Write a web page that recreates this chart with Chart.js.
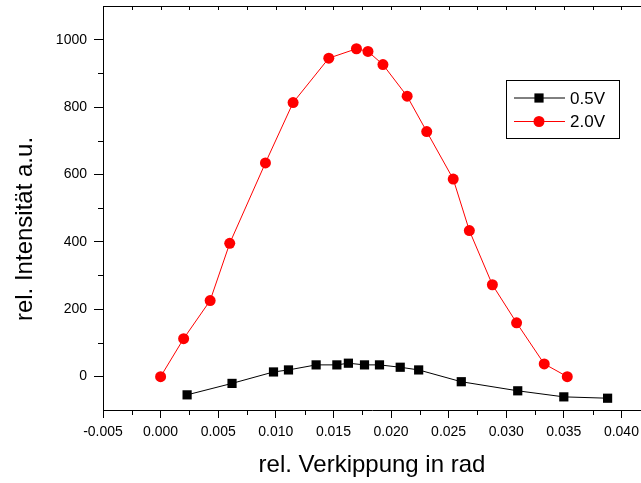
<!DOCTYPE html>
<html>
<head>
<meta charset="utf-8">
<script src="https://cdn.jsdelivr.net/npm/chart.js@4/dist/chart.umd.min.js"></script>
<style>
  body { margin: 0; background: #fff; }
  #wrap { width: 641px; height: 483px; }
</style>
</head>
<body>
<div id="wrap"><canvas id="chart" width="641" height="483"></canvas></div>
<script>
// Werte
const x05 = [0.0023, 0.0062, 0.0098, 0.0111, 0.0135, 0.0153, 0.0163, 0.0177, 0.0190, 0.0208, 0.0224, 0.0261, 0.0310, 0.0350, 0.0388];
const y05 = [-55, -21, 13, 19, 34, 34, 39, 34, 34, 27, 19, -16, -43, -61, -65];

const x20 = [0.0000, 0.0020, 0.0043, 0.0060, 0.0091, 0.0115, 0.0146, 0.0170, 0.0180, 0.0193, 0.0214, 0.0231, 0.0254, 0.0268, 0.0288, 0.0309, 0.0333, 0.0353];
const y20 = [-1, 112, 225, 395, 634, 813, 945, 973, 965, 926, 832, 727, 586, 433, 272, 159, 37, -1];

const xTicks = [-0.005, 0.000, 0.005, 0.010, 0.015, 0.020, 0.025, 0.030, 0.035, 0.040];
const xMinor = [-0.0025, 0.0025, 0.0075, 0.0125, 0.0175, 0.0225, 0.0275, 0.0325, 0.0375];
const yTicks = [0, 200, 400, 600, 800, 1000];
const yMinor = [100, 300, 500, 700, 900];

const yTitle = "rel. Intensität a.u.";
const xTitle = "rel. Verkippung in rad";

const font = "'Liberation Sans', Arial, sans-serif";

const toPoints = (xs, ys) => xs.map((x, i) => ({ x: x, y: ys[i] }));

// Nebenstriche, obere Achse, y-Titel und Legende
const extras = {
    id: "extras",
    afterDraw(chart) {
        const ctx = chart.ctx;
        const area = chart.chartArea;
        const xs = chart.scales.x;
        const ys = chart.scales.y;
        ctx.save();
        ctx.strokeStyle = "#000";
        ctx.lineWidth = 1;
        ctx.beginPath();
        ctx.moveTo(area.left, area.top + 0.5);
        ctx.lineTo(area.right, area.top + 0.5);
        xMinor.concat(xTicks).forEach(v => {
            const px = Math.round(xs.getPixelForValue(v)) + 0.5;
            ctx.moveTo(px, area.top);
            ctx.lineTo(px, area.top + 4);
        });
        xMinor.forEach(v => {
            const px = Math.round(xs.getPixelForValue(v)) + 0.5;
            ctx.moveTo(px, area.bottom);
            ctx.lineTo(px, area.bottom + 5);
        });
        yMinor.forEach(v => {
            const py = Math.round(ys.getPixelForValue(v)) + 0.5;
            ctx.moveTo(area.left, py);
            ctx.lineTo(area.left - 5, py);
        });
        ctx.stroke();

        // y-Titel
        ctx.save();
        ctx.translate(25, 229);
        ctx.rotate(-Math.PI / 2);
        ctx.font = "24px " + font;
        ctx.fillStyle = "#000";
        ctx.textAlign = "center";
        ctx.textBaseline = "middle";
        ctx.fillText(yTitle, 0, 0);
        ctx.restore();

        // Legende
        const bx = 506.5, by = 80.5, bw = 113, bh = 58;
        ctx.strokeStyle = "#000";
        ctx.strokeRect(bx, by, bw, bh);
        ctx.font = "17px " + font;
        ctx.textBaseline = "middle";
        ctx.textAlign = "left";
        chart.data.datasets.forEach((ds, i) => {
            const ly = 98 + i * 23.5;
            ctx.strokeStyle = ds.borderColor;
            ctx.lineWidth = 1;
            ctx.beginPath();
            ctx.moveTo(514, ly);
            ctx.lineTo(565, ly);
            ctx.stroke();
            ctx.fillStyle = ds.pointBackgroundColor;
            ctx.strokeStyle = ds.pointBorderColor;
            Chart.helpers.drawPoint(ctx, {
                pointStyle: ds.pointStyle, radius: ds.pointRadius, rotation: 0, borderWidth: 0
            }, 539, ly);
            ctx.fillStyle = "#000";
            ctx.fillText(ds.label, 570, ly + 1);
        });
        ctx.restore();
    }
};

new Chart(document.getElementById("chart"), {
    type: "scatter",
    data: {
        datasets: [{
            label: "0.5V",
            data: toPoints(x05, y05),
            showLine: true,
            borderColor: "#000",
            borderWidth: 1,
            pointStyle: "rect",
            pointRadius: 6.5,
            pointBackgroundColor: "#000",
            pointBorderColor: "#000",
            pointBorderWidth: 0
        }, {
            label: "2.0V",
            data: toPoints(x20, y20),
            showLine: true,
            borderColor: "#ff0000",
            borderWidth: 1,
            pointStyle: "circle",
            pointRadius: 5.5,
            pointBackgroundColor: "#ff0000",
            pointBorderColor: "#ff0000",
            pointBorderWidth: 0
        }]
    },
    options: {
        responsive: false,
        animation: false,
        layout: { autoPadding: false, padding: { left: 0, right: 0, top: 6, bottom: 0 } },
        plugins: {
            legend: { display: false },
            tooltip: { enabled: false }
        },
        scales: {
            x: {
                type: "linear",
                min: -0.005,
                max: 0.0417,
                afterBuildTicks: s => { s.ticks = xTicks.map(v => ({ value: v })); },
                afterFit: s => {
                    s.height = 73;
                    s.paddingLeft = 0; s.paddingRight = 0; s.paddingTop = 0; s.paddingBottom = 0;
                },
                ticks: {
                    color: "#000",
                    font: { family: font, size: 14 },
                    padding: 6,
                    maxRotation: 0,
                    callback: v => v.toFixed(3)
                },
                grid: { drawOnChartArea: false, drawTicks: true, tickLength: 8, tickColor: "#000" },
                border: { display: true, color: "#000", width: 1 },
                title: {
                    display: true,
                    text: xTitle,
                    color: "#000",
                    font: { family: font, size: 24 },
                    padding: { top: 0, bottom: 3 }
                }
            },
            y: {
                type: "linear",
                min: -100,
                max: 1100,
                afterBuildTicks: s => { s.ticks = yTicks.map(v => ({ value: v })); },
                afterFit: s => {
                    s.width = 103;
                    s.paddingLeft = 0; s.paddingRight = 0; s.paddingTop = 0; s.paddingBottom = 0;
                },
                ticks: {
                    color: "#000",
                    font: { family: font, size: 14 },
                    padding: 7,
                    callback: v => String(v)
                },
                grid: { drawOnChartArea: false, drawTicks: true, tickLength: 9, tickColor: "#000" },
                border: { display: true, color: "#000", width: 1 }
            }
        }
    },
    plugins: [extras]
});
</script>
</body>
</html>
